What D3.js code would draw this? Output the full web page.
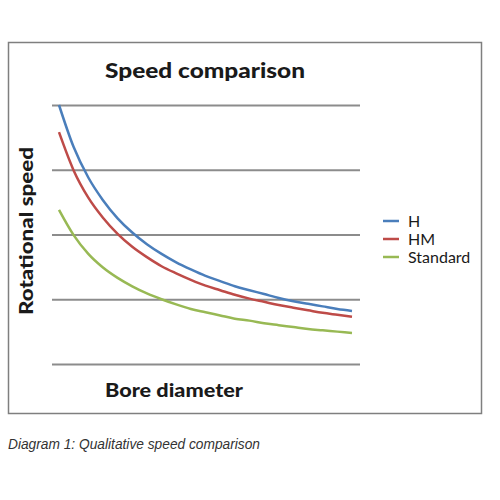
<!DOCTYPE html>
<html>
<head>
<meta charset="utf-8">
<script src="https://cdn.jsdelivr.net/npm/d3@7"></script>
<style>
  body { margin: 0; background: #fff; }
</style>
</head>
<body>
<div id="chart"></div>
<script>
// Qualitative speed comparison - three curves, no numeric ticks
var steps = d3.range(21); // evenly spaced bore diameter categories
var seriesNames = ["H", "HM", "Standard"];
var hValues = [4.00, 3.35, 2.88, 2.53, 2.25, 2.03, 1.85, 1.70, 1.57, 1.46, 1.36,
               1.28, 1.20, 1.14, 1.08, 1.02, 0.97, 0.93, 0.89, 0.85, 0.82];
var hmValues = [3.58, 2.99, 2.57, 2.26, 2.01, 1.81, 1.65, 1.51, 1.40, 1.30, 1.21,
                1.14, 1.07, 1.01, 0.96, 0.91, 0.87, 0.83, 0.79, 0.76, 0.73];
var stdValues = [2.38, 1.99, 1.70, 1.49, 1.33, 1.20, 1.09, 1.00, 0.92, 0.85, 0.80,
                 0.75, 0.70, 0.67, 0.63, 0.60, 0.57, 0.54, 0.52, 0.50, 0.48];
var gridValues = [0, 1, 2, 3, 4];

var colors = ["#4a7ebb", "#be4b48", "#98b954"];
var allSeries = [hValues, hmValues, stdValues];

var width = 500, height = 500;

var svg = d3.select('#chart')
            .append('svg')
            .attr('width', width)
            .attr('height', height);

// outer frame
svg.append('rect')
   .attr('x', 8.5).attr('y', 42.5)
   .attr('width', 473).attr('height', 371)
   .attr('fill', '#fff')
   .attr('stroke', '#7f7f7f')
   .attr('stroke-width', 1.5);

var x = d3.scaleLinear().domain([0, 20]).range([59, 352]);
var y = d3.scaleLinear().domain([0, 4]).range([364, 105]);

// gridlines via axis
var yAxis = d3.axisLeft(y)
              .tickValues(gridValues)
              .tickSize(-308)
              .tickFormat('');
var g = svg.append('g')
           .attr('transform', 'translate(52,0)')
           .call(yAxis);
g.select('.domain').remove();
g.selectAll('.tick line')
 .attr('x2', 308)
 .attr('stroke', '#8c8c8c')
 .attr('stroke-width', 2);

var line = d3.line()
             .x(function(d, i) { return x(steps[i]); })
             .y(function(d) { return y(d); })
             .curve(d3.curveMonotoneX);

svg.selectAll('.series')
   .data(allSeries)
   .enter()
   .append('path')
   .attr('class', 'series')
   .attr('d', line)
   .attr('fill', 'none')
   .attr('stroke', function(d, i) { return colors[i]; })
   .attr('stroke-width', 2.5);

// title & axis labels (bold, stretched to the reference widths)
function boldLabel(sel, txt, len, size) {
    return sel.attr('text-anchor', 'middle')
              .attr('font-family', 'Lato')
              .attr('font-weight', 900)
              .attr('font-size', size)
              .attr('fill', '#1a1a1a')
              .attr('textLength', len)
              .attr('lengthAdjust', 'spacingAndGlyphs')
              .text(txt);
}

boldLabel(svg.append('text').attr('x', 205).attr('y', 78), 'Speed comparison', 200, 21);
boldLabel(svg.append('text').attr('transform', 'translate(33,231) rotate(-90)'), 'Rotational speed', 168, 19);
boldLabel(svg.append('text').attr('x', 174).attr('y', 397), 'Bore diameter', 138, 19);

// legend
var legend = svg.selectAll('.legend')
                .data(seriesNames)
                .enter()
                .append('g')
                .attr('class', 'legend')
                .attr('transform', function(d, i) { return 'translate(383,' + (221 + i * 18) + ')'; });
legend.append('line')
      .attr('x1', 0).attr('x2', 16)
      .attr('stroke', function(d, i) { return colors[i]; })
      .attr('stroke-width', 2.5);
legend.append('text')
      .attr('x', 25).attr('y', 5.5)
      .attr('font-family', 'Lato')
      .attr('font-size', 16)
      .attr('fill', '#1a1a1a')
      .text(function(d) { return d; });

// caption
svg.append('text')
   .attr('x', 8).attr('y', 449)
   .attr('font-family', 'Liberation Sans')
   .attr('font-style', 'italic')
   .attr('font-size', 14)
   .attr('fill', '#333')
   .attr('textLength', 252)
   .attr('lengthAdjust', 'spacingAndGlyphs')
   .text('Diagram 1: Qualitative speed comparison');
</script>
</body>
</html>
